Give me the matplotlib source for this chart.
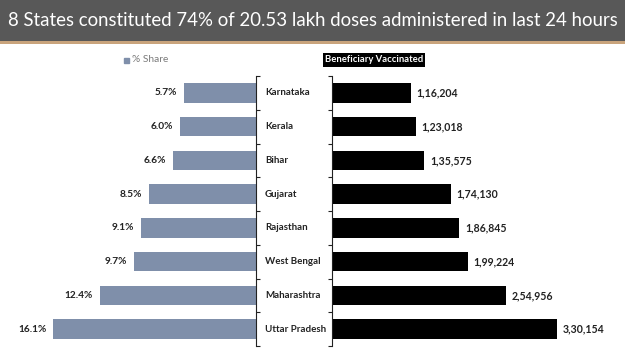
import matplotlib
matplotlib.use("Agg")
import matplotlib.pyplot as plt
import matplotlib.transforms as mtransforms
import numpy as np

# data
states = ["Karnataka", "Kerala", "Bihar", "Gujarat", "Rajasthan",
          "West Bengal", "Maharashtra", "Uttar Pradesh"]
share_pct = [5.7, 6.0, 6.6, 8.5, 9.1, 9.7, 12.4, 16.1]
vaccinated = [116204, 123018, 135575, 174130, 186845, 199224, 254956, 330154]
vaccinated_labels = ["1,16,204", "1,23,018", "1,35,575", "1,74,130",
                     "1,86,845", "1,99,224", "2,54,956", "3,30,154"]

title = "8 States constituted 74% of 20.53 lakh doses administered in last 24 hours"

W, H = 625, 351
SHARE_COLOR = "#7f8faa"
FONT = "Lato"

fig = plt.figure(figsize=(W / 100, H / 100), dpi=100)
fig.patch.set_facecolor("white")

def px(x0, y0, w, h):
    # pixel box (from top-left) -> figure fraction rect
    return [x0 / W, 1 - (y0 + h) / H, w / W, h / H]

# title band
band = fig.add_axes(px(0, 0, W, 41))
band.set_facecolor("#585858")
band.set_xticks([]); band.set_yticks([])
for s in band.spines.values():
    s.set_visible(False)
line = fig.add_axes(px(0, 41, W, 2.5))
line.set_facecolor("#c9a47c")
line.set_xticks([]); line.set_yticks([])
for s in line.spines.values():
    s.set_visible(False)
fig.text(0.5, 1 - 21 / H, title, ha="center", va="center", color="white",
         fontsize=13.4, family=FONT)

y = np.arange(len(states))
top, bottom = 76, 346

# left panel: % share
ax1 = fig.add_axes(px(30, top, 226, bottom - top))
ax1.barh(y, share_pct, height=0.58, color=SHARE_COLOR)
ax1.set_xlim(226 / 12.6, 0)
ax1.set_ylim(7.5, -0.5)
for s in ["left", "top", "bottom"]:
    ax1.spines[s].set_visible(False)
ax1.spines["right"].set_color("#222222")
ax1.yaxis.tick_right()
ax1.set_yticks(np.arange(-0.5, 8, 1))
ax1.set_yticklabels([])
ax1.tick_params(axis="y", length=3, color="#222222", direction="out")
ax1.set_xticks([])
for yi, v in zip(y, share_pct):
    ax1.annotate("%.1f%%" % v, (v, yi), xytext=(-5, 0), textcoords="offset points",
                 ha="right", va="center", fontsize=7.3, fontweight="bold",
                 color="#222222", family=FONT)

# right panel: beneficiaries vaccinated
ax2 = fig.add_axes(px(332, top, 280, bottom - top))
ax2.barh(y, vaccinated, height=0.58, color="black")
ax2.set_xlim(0, 280 * 330154 / 225)
ax2.set_ylim(7.5, -0.5)
for s in ["right", "top", "bottom"]:
    ax2.spines[s].set_visible(False)
ax2.spines["left"].set_color("#222222")
ax2.set_yticks(np.arange(-0.5, 8, 1))
ax2.set_yticklabels([])
ax2.tick_params(axis="y", length=3, color="#222222", direction="out")
ax2.set_xticks([])
for yi, v, lab in zip(y, vaccinated, vaccinated_labels):
    ax2.annotate(lab, (v, yi), xytext=(4, 0), textcoords="offset points",
                 ha="left", va="center", fontsize=7.6, fontweight="bold",
                 color="#222222", family=FONT)

# state names between the two panels
trans = mtransforms.blended_transform_factory(fig.transFigure, ax1.transData)
for yi, name in zip(y, states):
    fig.text(265 / W, yi, name, transform=trans, ha="left", va="center",
             fontsize=7, fontweight="bold", color="#222222", family=FONT)

# legends
fig.patches.append(plt.Rectangle((124 / W, 1 - 63 / H), 5 / W, 5 / H,
                                 transform=fig.transFigure, color=SHARE_COLOR))
fig.text(132 / W, 1 - 60 / H, "% Share", ha="left", va="center",
         fontsize=7.3, color="#7a7a7a", family=FONT)
fig.text(374 / W, 1 - 60 / H, "Beneficiary Vaccinated", ha="center", va="center",
         fontsize=6.8, fontweight="bold", color="white", family=FONT,
         bbox=dict(boxstyle="square,pad=0.25", fc="black", ec="none"))

fig.savefig("out.png", dpi=100)
